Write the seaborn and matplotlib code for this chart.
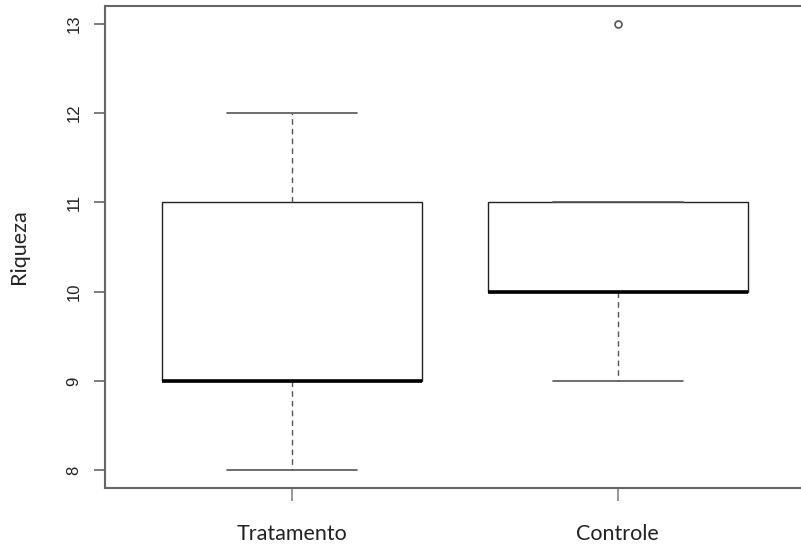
import seaborn as sns
import pandas as pd
import matplotlib.pyplot as plt

grupos = ['Tratamento', 'Controle']
tratamento = [8, 9, 9, 9, 9, 11, 11, 12]
controle = [9, 10, 10, 10, 10, 11, 11, 13]
yticks = [8, 9, 10, 11, 12, 13]

df = pd.DataFrame({
    'grupo': [grupos[0]] * len(tratamento) + [grupos[1]] * len(controle),
    'riqueza': tratamento + controle,
})

sns.set_style('white')
plt.rcParams['font.family'] = ['Liberation Sans', 'DejaVu Sans']

fig = plt.figure(figsize=(8.01, 5.44), dpi=100)
ax = fig.add_axes([105 / 801, 56 / 544, 700 / 801, 482 / 544])

sns.boxplot(data=df, x='grupo', y='riqueza', order=grupos, ax=ax,
            color='white', linecolor='#222222', width=0.8, whis=1.5,
            boxprops=dict(linewidth=1.0, edgecolor='#222222', facecolor='white'),
            medianprops=dict(color='black', linewidth=2.6),
            whiskerprops=dict(color='#555555', linestyle=(0, (4, 3)), linewidth=1.0),
            capprops=dict(color='#555555', linewidth=1.2),
            flierprops=dict(marker='o', markersize=5, markerfacecolor='white',
                            markeredgecolor='#555555', markeredgewidth=1.2))

ax.set_xlim(-0.575, 1.575)
ax.set_ylim(7.8, 13.2)
ax.set_yticks(yticks)
ax.set_yticklabels([str(v) for v in yticks], rotation=90, va='center', fontsize=12, color='#222222')
ax.tick_params(axis='y', direction='out', length=8, width=1.2, color='#666666', pad=9, left=True)
ax.tick_params(axis='x', direction='out', length=9, width=1.2, color='#888888', pad=17, bottom=True)
ax.set_xticks([0, 1])
ax.set_xticklabels(grupos, fontsize=15.5, family=['Lato', 'DejaVu Sans'], color='#222222')
ax.set_xlabel('')
ax.set_ylabel('Riqueza', fontsize=15.5, family=['Lato', 'DejaVu Sans'], labelpad=27, color='#222222')

for s in ax.spines.values():
    s.set_visible(True)
    s.set_color('#666666')
    s.set_linewidth(1.5)

fig.savefig('out.png', dpi=100)
